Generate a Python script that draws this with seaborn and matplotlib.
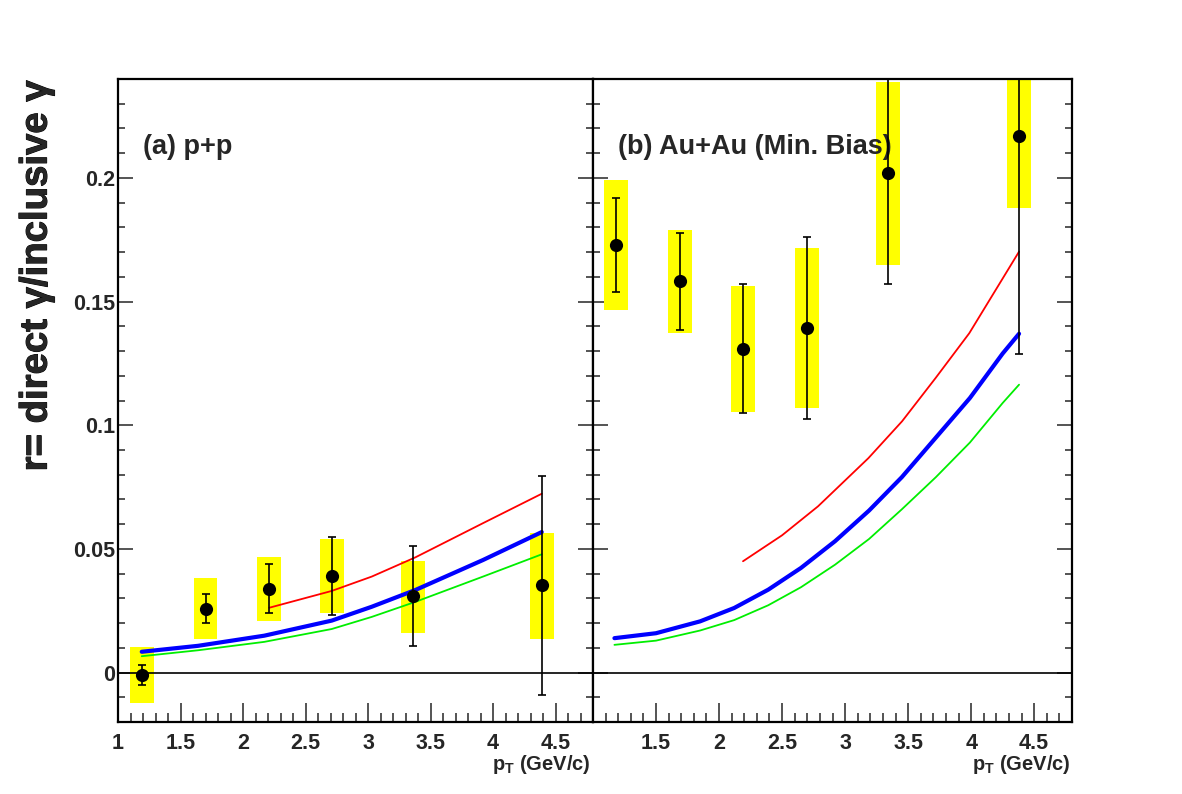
import numpy as np
import pandas as pd
import matplotlib
matplotlib.use("Agg")
import matplotlib.pyplot as plt
import matplotlib.patheffects as pe
from matplotlib.ticker import MultipleLocator, FixedLocator, FixedFormatter
import seaborn as sns

# ---------------- data ----------------
# (a) p+p
pp_x = [1.19, 1.70, 2.21, 2.71, 3.36, 4.39]
pp_y = [-0.0011, 0.0258, 0.0338, 0.0391, 0.0308, 0.0352]
pp_stat_lo = [-0.0050, 0.0199, 0.0239, 0.0231, 0.0109, -0.0091]
pp_stat_hi = [0.0030, 0.0319, 0.0437, 0.0549, 0.0510, 0.0796]
pp_sys_lo = [-0.0123, 0.0136, 0.0208, 0.0239, 0.0160, 0.0137]
pp_sys_hi = [0.0104, 0.0381, 0.0467, 0.0538, 0.0453, 0.0566]

pp_curve_x = [1.19, 1.64, 2.17, 2.71, 3.03, 3.38, 3.92, 4.39]
pp_blue = [0.0084, 0.0108, 0.0149, 0.0210, 0.0266, 0.0334, 0.0455, 0.0568]
pp_green = [0.0066, 0.0090, 0.0124, 0.0176, 0.0225, 0.0286, 0.0388, 0.0478]
pp_red_x = [2.21, 2.71, 3.03, 3.38, 3.92, 4.39]
pp_red = [0.0262, 0.0330, 0.0388, 0.0466, 0.0604, 0.0723]

# (b) Au+Au (Min. Bias)
au_x = [1.18, 1.69, 2.19, 2.70, 3.34, 4.38]
au_y = [0.1730, 0.1582, 0.1310, 0.1395, 0.2018, 0.2168]
au_stat_lo = [0.1540, 0.1385, 0.1050, 0.1026, 0.1571, 0.1289]
au_stat_hi = [0.1919, 0.1778, 0.1571, 0.1761, 0.2600, 0.2600]
au_sys_lo = [0.1465, 0.1372, 0.1054, 0.1070, 0.1648, 0.1880]
au_sys_hi = [0.1992, 0.1791, 0.1565, 0.1718, 0.2387, 0.2500]

au_curve_x = [1.17, 1.5, 1.85, 2.12, 2.39, 2.65, 2.92, 3.19, 3.45, 3.72, 3.99, 4.25, 4.38]
au_blue = [0.0139, 0.0159, 0.0207, 0.0261, 0.0335, 0.0423, 0.0531, 0.0655, 0.0790, 0.0950, 0.1110, 0.1290, 0.1370]
au_green = [0.0112, 0.0129, 0.0170, 0.0212, 0.0272, 0.0345, 0.0436, 0.0540, 0.0660, 0.0790, 0.0930, 0.1090, 0.1164]
au_red_x = [2.19, 2.50, 2.785, 3.185, 3.452, 3.718, 3.985, 4.252, 4.38]
au_red = [0.0450, 0.0555, 0.0672, 0.0867, 0.1016, 0.1191, 0.1372, 0.1595, 0.1702]

x_ticks = [1, 1.5, 2, 2.5, 3, 3.5, 4, 4.5]
x_tick_labels = ["1", "1.5", "2", "2.5", "3", "3.5", "4", "4.5"]
y_ticks = [0, 0.05, 0.1, 0.15, 0.2]
y_tick_labels = ["0", "0.05", "0.1", "0.15", "0.2"]

panel_labels = ["(a) p+p", "(b) Au+Au (Min. Bias)"]
y_title = "r= direct \u03b3/inclusive \u03b3"
x_title = r"p$_{\mathbf{T}}$ (GeV/c)"

# ---------------- style ----------------
sns.set_theme(style="ticks")
plt.rcParams["font.family"] = ["Liberation Sans", "DejaVu Sans"]
plt.rcParams["font.weight"] = "bold"
plt.rcParams["mathtext.fontset"] = "custom"
plt.rcParams["mathtext.rm"] = "Liberation Sans:bold"
plt.rcParams["mathtext.bf"] = "Liberation Sans:bold"
plt.rcParams["mathtext.it"] = "Liberation Sans:bold"

fig = plt.figure(figsize=(11.82, 7.94), dpi=100)
ax1 = fig.add_axes([118 / 1182, 1 - 722 / 794, 475 / 1182, 643 / 794])
ax2 = fig.add_axes([593 / 1182, 1 - 722 / 794, 479 / 1182, 643 / 794])

datasets = [
    (ax1, pp_x, pp_y, pp_stat_lo, pp_stat_hi, pp_sys_lo, pp_sys_hi,
     pp_curve_x, pp_blue, pp_green, pp_red_x, pp_red),
    (ax2, au_x, au_y, au_stat_lo, au_stat_hi, au_sys_lo, au_sys_hi,
     au_curve_x, au_blue, au_green, au_red_x, au_red),
]

for i, (ax, x, y, slo, shi, ylo, yhi, cx, cb, cg, rx, rr) in enumerate(datasets):
    x = np.array(x); y = np.array(y)
    slo = np.array(slo); shi = np.array(shi)
    ylo = np.array(ylo); yhi = np.array(yhi)
    # systematic boxes
    ax.bar(x, yhi - ylo, bottom=ylo, width=0.19, color="#ffff00",
           edgecolor="none", zorder=1)
    # zero line
    ax.axhline(0, color="black", lw=1.2, zorder=2)
    # curves
    dfc = pd.DataFrame({"x": cx, "blue": cb, "green": cg})
    dfr = pd.DataFrame({"x": rx, "red": rr})
    sns.lineplot(data=dfc, x="x", y="green", color="#00ee00", lw=1.3,
                 sort=False, estimator=None, ax=ax, zorder=3)
    sns.lineplot(data=dfr, x="x", y="red", color="#ff0000", lw=1.3,
                 sort=False, estimator=None, ax=ax, zorder=3)
    sns.lineplot(data=dfc, x="x", y="blue", color="#0000ff", lw=3.0,
                 sort=False, estimator=None, ax=ax, zorder=3)
    # stat error bars
    ax.errorbar(x, y, yerr=[y - slo, shi - y], fmt="none", ecolor="black",
                elinewidth=1.2, capsize=2.6, capthick=1.2, zorder=4)
    # points
    sns.scatterplot(x=x, y=y, color="black", s=90, linewidth=0, ax=ax,
                    zorder=5)

    ax.set_xlim(1.0, 4.8)
    ax.set_ylim(-0.02, 0.24)
    ax.set_xlabel("")
    ax.set_ylabel("")
    ax.xaxis.set_major_locator(FixedLocator(x_ticks))
    ax.xaxis.set_minor_locator(MultipleLocator(0.1))
    ax.yaxis.set_major_locator(FixedLocator(y_ticks))
    ax.yaxis.set_minor_locator(MultipleLocator(0.01))
    if i == 0:
        ax.xaxis.set_major_formatter(FixedFormatter(x_tick_labels))
        ax.yaxis.set_major_formatter(FixedFormatter(y_tick_labels))
    else:
        ax.xaxis.set_major_formatter(FixedFormatter([""] + x_tick_labels[1:]))
        ax.yaxis.set_major_formatter(FixedFormatter([""] * len(y_ticks)))
    ax.tick_params(axis="x", which="major", direction="in", length=13.5,
                   width=1.1, labelsize=15.5, pad=8, top=False, bottom=True)
    ax.tick_params(axis="x", which="minor", direction="in", length=6.8,
                   width=1.1, top=False, bottom=True)
    ax.tick_params(axis="y", which="major", direction="in", length=10.8,
                   width=1.1, labelsize=15.5, pad=2, left=True, right=True)
    ax.tick_params(axis="y", which="minor", direction="in", length=5.2,
                   width=1.1, left=True, right=True)
    for lab in ax.get_xticklabels() + ax.get_yticklabels():
        lab.set_fontweight("bold")
    for sp in ax.spines.values():
        sp.set_linewidth(1.6)
        sp.set_color("black")
        sp.set_visible(True)
    ax.text(0.052, 0.894, panel_labels[i], transform=ax.transAxes,
            fontsize=19.5, fontweight="bold", ha="left", va="center")
    ax.text(0.997 if i == 1 else 0.995, -0.075, x_title, transform=ax.transAxes,
            fontsize=14.5, fontweight="bold", ha="right", va="baseline")

fig.text(0.031, 1 - 80 / 794, y_title, rotation=90, fontsize=27.6,
         fontweight="bold", ha="center", va="top",
         path_effects=[pe.withStroke(linewidth=0.7, foreground="black")])

fig.savefig("out.png", dpi=100, facecolor="white")
